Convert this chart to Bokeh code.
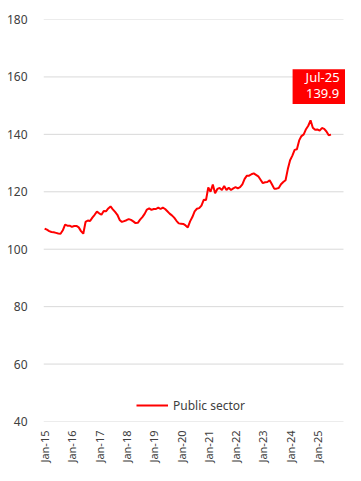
import math
from bokeh.plotting import figure
from bokeh.models import (Range1d, FixedTicker, BoxAnnotation, Label, Legend, LegendItem)
from bokeh.embed import file_html
from bokeh.resources import INLINE

# ---- data ----
series_name = "Public sector"
n_categories = 132  # Jan-15 .. Dec-25 (axis categories)
values = [
    107.2, 106.8, 106.3, 106.0, 105.9, 105.7, 105.5, 105.4, 106.6, 108.6, 108.2, 108.2,
    107.8, 108.1, 108.1, 107.6, 106.3, 105.4, 109.5, 110.0, 109.8, 111.0, 112.0, 113.1,
    112.5, 112.0, 113.3, 113.2, 114.2, 114.9, 113.9, 113.0, 112.0, 110.2, 109.5, 109.8,
    110.1, 110.5, 110.2, 109.7, 109.1, 109.2, 110.3, 111.2, 112.3, 113.8, 114.2, 113.7,
    114.0, 114.0, 114.5, 114.0, 114.5, 114.0, 113.2, 112.4, 111.8, 111.0, 109.9, 109.0,
    108.9, 108.8, 108.3, 107.6, 109.7, 111.2, 113.2, 114.1, 114.3, 115.2, 117.2, 117.1,
    121.5, 120.0, 122.5, 119.5, 121.0, 121.3, 120.6, 122.0, 120.6, 121.4, 120.6, 121.2,
    121.6, 121.2, 121.6, 122.6, 124.5, 125.6, 125.6, 126.1, 126.4, 125.9, 125.4, 124.2,
    123.0, 123.3, 123.4, 124.0, 122.6, 121.1, 121.1, 121.3, 122.6, 123.4, 124.0, 127.9,
    131.0, 132.6, 134.6, 134.8, 137.9, 139.4, 140.0, 141.8, 143.0, 144.9, 142.3, 141.6,
    141.7, 141.3, 142.2, 141.9, 141.0, 139.7, 139.9,
]
x_tick_labels = ["Jan-15", "Jan-16", "Jan-17", "Jan-18", "Jan-19", "Jan-20",
                 "Jan-21", "Jan-22", "Jan-23", "Jan-24", "Jan-25"]
y_ticks = [40, 60, 80, 100, 120, 140, 160, 180]
last_label = "Jul-25"

xs = list(range(len(values)))
x_tick_pos = [12 * k for k in range(len(x_tick_labels))]

FONT = "Noto Sans"
TXT = "#404040"
RED = "#ff0000"

# frame: 300px for the 132 categories, plus 2px extra on the right
px_per_cat = 300 / n_categories
x_end = -0.5 + 302 / px_per_cat

p = figure(width=345, height=465, output_backend="svg", toolbar_location=None,
           x_range=Range1d(-0.5, x_end), y_range=Range1d(40, 180),
           min_border_left=43, min_border_right=0, min_border_top=19, min_border_bottom=41)
p.outline_line_color = None
p.background_fill_color = "white"
p.border_fill_color = "white"

# horizontal gridlines spanning the category area only
p.segment(x0=[-0.5] * len(y_ticks), x1=[n_categories - 0.5] * len(y_ticks),
          y0=y_ticks, y1=y_ticks, line_color="#d9d9d9", line_width=1)

r = p.line(xs, values, line_color=RED, line_width=2)

# axes
p.yaxis.ticker = FixedTicker(ticks=y_ticks)
p.xaxis.ticker = FixedTicker(ticks=x_tick_pos)
p.xaxis.major_label_overrides = {pos: lab for pos, lab in zip(x_tick_pos, x_tick_labels)}
p.xaxis.major_label_orientation = math.pi / 2
for ax in (p.xaxis[0], p.yaxis[0]):
    ax.axis_line_color = None
    ax.major_tick_line_color = None
    ax.minor_tick_line_color = None
    ax.major_tick_out = 0
    ax.major_tick_in = 0
    ax.minor_tick_out = 0
    ax.minor_tick_in = 0
    ax.major_label_text_font = FONT
    ax.major_label_text_color = TXT
p.yaxis.major_label_text_font_size = "12px"
p.xaxis.major_label_text_font_size = "11px"
p.yaxis.major_label_standoff = 16
p.xaxis.major_label_standoff = 9

p.xgrid.grid_line_color = None
p.ygrid.grid_line_color = None

# legend inside, bottom centre
legend = Legend(items=[LegendItem(label=series_name, renderers=[r])],
                location=(93, 6), orientation="horizontal",
                border_line_color=None, background_fill_alpha=0,
                padding=0, margin=0, glyph_width=32, glyph_height=20,
                label_standoff=5, label_text_font=FONT, label_text_font_size="12px",
                label_text_color=TXT)
p.add_layout(legend, "center")

# annotation box for last value
last_x = xs[-1]
box = BoxAnnotation(left=last_x - 16.9, right=x_end + 5, bottom=150.6, top=162.7,
                    fill_color=RED, fill_alpha=1, line_color=None, level="overlay")
p.add_layout(box)
p.add_layout(Label(x=last_x - 3.7, y=159.95, text=last_label, text_align="center",
                   text_baseline="middle", text_color="white", text_font=FONT,
                   text_font_size="13px", level="overlay"))
p.add_layout(Label(x=last_x - 3.7, y=154.1, text=f"{values[-1]:.1f}", text_align="center",
                   text_baseline="middle", text_color="white", text_font=FONT,
                   text_font_size="13px", level="overlay"))

open("out.html", "w").write(file_html(p, INLINE))
